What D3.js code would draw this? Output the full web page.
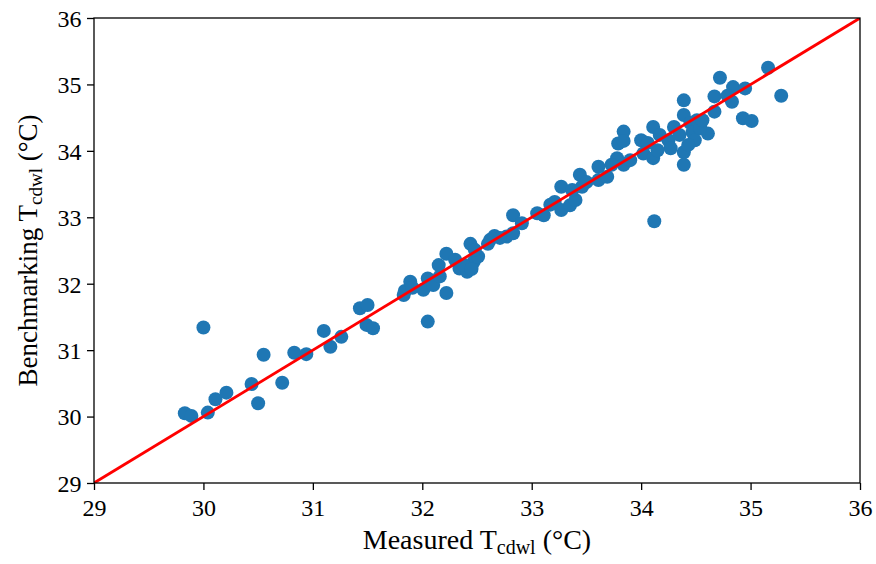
<!DOCTYPE html>
<html>
<head>
<meta charset="utf-8">
<script src="https://cdn.jsdelivr.net/npm/d3@7"></script>
<style>
  body { margin: 0; background: #fff; }
  svg text { font-family: "Liberation Serif", "Times New Roman", serif; fill: #000; }
</style>
</head>
<body>
<div id="chart"></div>
<script>
// measured vs benchmarking T_cdwl (°C)
const measured = [
  29.83, 29.89, 30.00, 30.04, 30.11, 30.21, 30.44, 30.50, 30.55, 30.72,
  30.83, 30.94, 31.10, 31.16, 31.26, 31.43, 31.50, 31.49, 31.55, 31.83,
  31.84, 31.89, 32.01, 32.05, 32.05, 32.10, 32.16, 32.15, 32.22, 32.22,
  32.34, 32.41, 32.47, 32.44, 32.51, 32.48, 32.38, 32.45, 32.60, 32.62,
  32.66, 32.77, 32.83, 32.83, 32.91, 33.05, 33.11, 33.21, 33.27, 33.27,
  33.35, 33.40, 33.44, 33.46, 33.37, 33.61, 33.61, 33.69, 33.79, 33.78,
  33.84, 33.84, 33.84, 33.90, 34.00, 34.02, 34.11, 34.11, 34.12, 34.17,
  34.25, 34.27, 34.30, 34.39, 34.39, 34.39, 34.39, 34.45, 34.47, 34.51,
  34.49, 34.61, 34.67, 34.67, 34.72, 34.84, 34.83, 34.95, 34.93, 35.01,
  35.16, 35.28, 34.43, 34.35, 34.54, 34.15, 34.06, 33.73, 33.50, 33.17,
  32.71, 32.30, 31.91, 34.79, 34.56
];
const benchmark = [
  30.05, 30.01, 31.34, 30.06, 30.26, 30.36, 30.49, 30.20, 30.93, 30.51,
  30.96, 30.94, 31.29, 31.05, 31.20, 31.63, 31.68, 31.38, 31.33, 31.83,
  31.89, 32.03, 31.91, 32.08, 31.43, 31.98, 32.11, 32.28, 32.45, 31.86,
  32.23, 32.18, 32.33, 32.60, 32.41, 32.51, 32.28, 32.22, 32.60, 32.66,
  32.72, 32.71, 32.76, 33.03, 32.91, 33.06, 33.03, 33.23, 33.46, 33.11,
  33.18, 33.26, 33.64, 33.46, 33.41, 33.76, 33.56, 33.61, 34.11, 33.89,
  33.79, 34.29, 34.15, 33.86, 34.16, 33.96, 34.36, 33.89, 32.94, 34.24,
  34.16, 34.04, 34.36, 34.76, 34.54, 33.98, 33.79, 34.42, 34.28, 34.46,
  34.16, 34.26, 34.82, 34.59, 35.10, 34.96, 34.74, 34.94, 34.49, 34.45,
  35.25, 34.83, 34.09, 34.24, 34.34, 34.01, 34.12, 33.79, 33.53, 33.19,
  32.69, 32.36, 31.94, 34.83, 34.46
];
const ticks = [29, 30, 31, 32, 33, 34, 35, 36];
const extent = [29, 36];

const width = 876;
const height = 564;
const margin = { top: 18, right: 16, bottom: 81, left: 94 };
const chartWidth = width - margin.left - margin.right;
const chartHeight = height - margin.top - margin.bottom;

const svg = d3.select("#chart")
  .append("svg")
  .attr("width", width)
  .attr("height", height);

const g = svg.append("g")
  .attr("transform", `translate(${margin.left},${margin.top})`);

const x = d3.scaleLinear().domain(extent).range([0, chartWidth]);
const y = d3.scaleLinear().domain(extent).range([chartHeight, 0]);

g.append("clipPath").attr("id", "clip")
  .append("rect").attr("width", chartWidth).attr("height", chartHeight);

const data = measured.map((m, i) => ({ m: m, b: benchmark[i] }));

g.append("g")
  .selectAll("circle")
  .data(data)
  .join("circle")
  .attr("cx", d => x(d.m))
  .attr("cy", d => y(d.b))
  .attr("r", 7)
  .attr("fill", "#1f77b4");

// 1:1 line
g.append("line")
  .attr("clip-path", "url(#clip)")
  .attr("x1", x(extent[0])).attr("y1", y(extent[0]))
  .attr("x2", x(extent[1])).attr("y2", y(extent[1]))
  .attr("stroke", "#ff0000")
  .attr("stroke-width", 2.8);

const xAxis = d3.axisBottom(x).tickValues(ticks).tickFormat(d3.format("d")).tickSize(7).tickSizeOuter(0);
const yAxis = d3.axisLeft(y).tickValues(ticks).tickFormat(d3.format("d")).tickSize(7).tickSizeOuter(0);

const xg = g.append("g").attr("transform", `translate(0,${chartHeight})`).call(xAxis);
const yg = g.append("g").call(yAxis);
[xg, yg].forEach(a => {
  a.select(".domain").remove();
  a.selectAll("line").attr("stroke", "#000").attr("stroke-width", 1.3);
  a.selectAll("text").attr("font-size", 24).attr("font-family", "Liberation Serif");
});
xg.selectAll("text").attr("dy", "0.95em");
yg.selectAll("text").attr("dx", "-0.1em").attr("dy", "0.35em");

// frame
g.append("rect")
  .attr("width", chartWidth)
  .attr("height", chartHeight)
  .attr("fill", "none")
  .attr("stroke", "#000")
  .attr("stroke-width", 1.3);

// X-axis label
const xl = svg.append("text")
  .attr("x", margin.left + chartWidth / 2)
  .attr("y", 549)
  .attr("text-anchor", "middle")
  .attr("font-size", 28);
xl.append("tspan").text("Measured T");
xl.append("tspan").attr("font-size", 20).attr("dy", 5).text("cdwl");
xl.append("tspan").attr("dy", -5).text(" (°C)");

// Y-axis label
const yl = svg.append("text")
  .attr("transform", `translate(37,${margin.top + chartHeight / 2}) rotate(-90)`)
  .attr("text-anchor", "middle")
  .attr("font-size", 27);
yl.append("tspan").text("Benchmarking T");
yl.append("tspan").attr("font-size", 19).attr("dy", 5).text("cdwl");
yl.append("tspan").attr("dy", -5).text(" (°C)");
</script>
</body>
</html>
